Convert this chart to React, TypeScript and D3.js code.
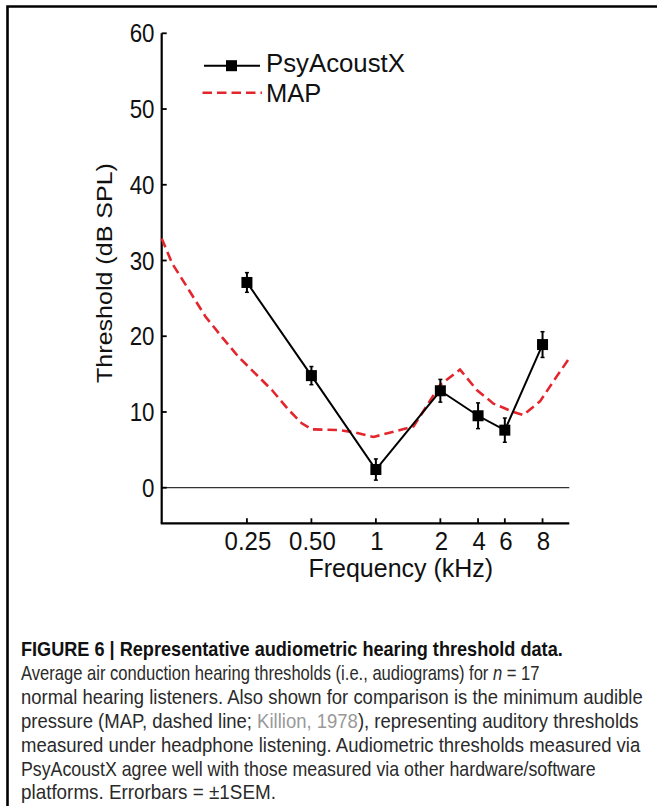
import React, { useLayoutEffect, useRef, useState } from "react";
import * as d3 from "d3";

// ---- data ----
const tickFreqs = [0.25, 0.5, 1, 2, 3, 4, 6];
const tickLabels = ["0.25", "0.50", "1", "2", "4", "6", "8"];
const yTicks = [0, 10, 20, 30, 40, 50, 60];

const psyFreqs = [0.25, 0.5, 1, 2, 3, 4, 6];
const psyMean = [27.1, 14.8, 2.4, 12.8, 9.5, 7.6, 18.9];
const psySem = [1.3, 1.2, 1.4, 1.5, 1.7, 1.6, 1.7];

const mapFreqs = [0.1, 0.112, 0.134, 0.16, 0.191, 0.228, 0.273, 0.327, 0.391, 0.451, 0.503, 0.68, 0.8, 0.975, 1.5, 2.0, 2.47, 2.96, 3.54, 4.39, 4.88, 5.84, 6.99, 8.0];
const mapDb = [32.9, 29.6, 26.1, 22.6, 19.9, 17.3, 15.1, 12.9, 10.3, 8.5, 7.7, 7.6, 7.3, 6.7, 8.1, 13.6, 15.6, 12.9, 11.1, 10.0, 9.6, 11.4, 14.7, 17.1];

const legendLabels = ["PsyAcoustX", "MAP"];

const captionTitle = "FIGURE 6 | Representative audiometric hearing threshold data.";

const W = 657;
const H = 806;
const FONT = "'Liberation Sans', Arial, Helvetica, sans-serif";
const RED = "#e3262d";

type FitProps = {
  x: number;
  y: number;
  target: number;
  rotate?: number;
  sy?: number;
  anchor?: "start" | "middle" | "end";
  children: React.ReactNode;
  [k: string]: any;
};

function FitText({ x, y, target, rotate = 0, sy = 1, anchor = "start", children, ...rest }: FitProps) {
  const ref = useRef<SVGTextElement>(null);
  const [sx, setSx] = useState(1);
  useLayoutEffect(() => {
    if (ref.current) {
      const w = ref.current.getComputedTextLength();
      if (w > 0) setSx(target / w);
    }
  }, [target]);
  return (
    <text
      ref={ref}
      transform={`translate(${x},${y}) rotate(${rotate}) scale(${sx},${sy})`}
      textAnchor={anchor}
      {...rest}
    >
      {children}
    </text>
  );
}

export default function App() {
  const x = d3.scaleLog().domain([0.1, 8]).range([161.7, 569.3]);
  const y = d3.scaleLinear().domain([-4.7, 60]).range([523.3, 33.3]);

  const psyPts = psyFreqs.map((f, i) => [f, psyMean[i]] as [number, number]);
  const mapPts = mapFreqs.map((f, i) => [f, mapDb[i]] as [number, number]);
  const line = d3
    .line<[number, number]>()
    .x((d) => x(d[0]))
    .y((d) => y(d[1]));

  const x0 = x.range()[0];
  const x1 = x.range()[1];
  const yBottom = y.range()[0];
  const yTop = y(60);
  const sq = 11;

  const body = { fontFamily: FONT, fontSize: 20.5, fill: "#2a2a2a" };

  return (
    <svg
      width={W}
      height={H}
      style={{ position: "absolute", left: 0, top: 0, background: "#fff" }}
    >
      <rect x={0} y={0} width={W} height={H} fill="#fff" />
      {/* frame */}
      <path d={`M7.5,${H} V6.5 H${W}`} fill="none" stroke="#000" strokeWidth={2.6} />

      {/* zero line */}
      <line x1={x0} x2={x1} y1={y(0)} y2={y(0)} stroke="#333" strokeWidth={1.3} />

      {/* axes */}
      <line x1={x0} x2={x0} y1={yTop} y2={yBottom} stroke="#000" strokeWidth={2.2} />
      <line x1={x0 - 1} x2={x1} y1={yBottom} y2={yBottom} stroke="#000" strokeWidth={2.2} />
      {yTicks.map((t) => (
        <g key={t}>
          <line x1={x0} x2={x0 + 5} y1={y(t)} y2={y(t)} stroke="#000" strokeWidth={1.8} />
          <text
            transform={`translate(154.5,${y(t) + 9}) scale(0.95,1.1)`}
            textAnchor="end"
            fontFamily={FONT}
            fontSize={23.5}
            fill="#111"
          >
            {t}
          </text>
        </g>
      ))}
      {tickFreqs.map((f, i) => (
        <g key={f}>
          <line x1={x(f)} x2={x(f)} y1={yBottom} y2={yBottom - 5} stroke="#000" strokeWidth={1.8} />
          <text
            transform={`translate(${x(f) + 1},550) scale(1,1.05)`}
            textAnchor="middle"
            fontFamily={FONT}
            fontSize={24}
            fill="#111"
          >
            {tickLabels[i]}
          </text>
        </g>
      ))}

      {/* axis titles */}
      <text
        transform="translate(400.8,576.7) scale(1,1.05)"
        textAnchor="middle"
        fontFamily={FONT}
        fontSize={25}
        fill="#111"
      >
        Frequency (kHz)
      </text>
      <FitText
        x={112}
        y={273}
        rotate={-90}
        target={220}
        anchor="middle"
        fontFamily={FONT}
        fontSize={22}
        fill="#111"
      >
        Threshold (dB SPL)
      </FitText>

      {/* MAP curve */}
      <path
        d={line(mapPts) || ""}
        fill="none"
        stroke={RED}
        strokeWidth={2.6}
        strokeDasharray="9.5,5"
      />

      {/* PsyAcoustX */}
      <path d={line(psyPts) || ""} fill="none" stroke="#000" strokeWidth={2} />
      {psyPts.map((d, i) => {
        const cx = x(d[0]);
        const lo = y(d[1] - psySem[i]);
        const hi = y(d[1] + psySem[i]);
        return (
          <g key={i}>
            <line x1={cx} x2={cx} y1={lo} y2={hi} stroke="#000" strokeWidth={2} />
            <line x1={cx - 2} x2={cx + 2} y1={lo} y2={lo} stroke="#000" strokeWidth={1.5} />
            <line x1={cx - 2} x2={cx + 2} y1={hi} y2={hi} stroke="#000" strokeWidth={1.5} />
            <rect x={cx - sq / 2} y={y(d[1]) - sq / 2} width={sq} height={sq} fill="#000" />
          </g>
        );
      })}

      {/* legend */}
      <line x1={204} x2={260} y1={65.7} y2={65.7} stroke="#000" strokeWidth={2} />
      <rect x={231.5 - sq / 2} y={65.7 - sq / 2} width={sq} height={sq} fill="#000" />
      <FitText x={266} y={72} target={139} fontFamily={FONT} fontSize={25.5} fill="#111">
        {legendLabels[0]}
      </FitText>
      <line
        x1={202.5}
        x2={262}
        y1={92.7}
        y2={92.7}
        stroke={RED}
        strokeWidth={2.6}
        strokeDasharray="9.5,5"
      />
      <text x={266} y={101.7} fontFamily={FONT} fontSize={25.5} fill="#111">
        {legendLabels[1]}
      </text>

      {/* caption */}
      <FitText x={21} y={656} target={542} fontFamily={FONT} fontSize={20} fontWeight="bold" fill="#111">
        {captionTitle}
      </FitText>
      <FitText x={21} y={680} target={519} {...body}>
        Average air conduction hearing thresholds (i.e., audiograms) for{" "}
        <tspan fontStyle="italic">n</tspan> = 17
      </FitText>
      <FitText x={21} y={704} target={622} {...body}>
        normal hearing listeners. Also shown for comparison is the minimum audible
      </FitText>
      <FitText x={21} y={728} target={618} {...body}>
        pressure (MAP, dashed line; <tspan fill="#999">Killion, 1978</tspan>), representing auditory thresholds
      </FitText>
      <FitText x={21} y={752} target={620} {...body}>
        measured under headphone listening. Audiometric thresholds measured via
      </FitText>
      <FitText x={21} y={776} target={575} {...body}>
        PsyAcoustX agree well with those measured via other hardware/software
      </FitText>
      <FitText x={21} y={799} target={255} {...body}>
        platforms. Errorbars = ±1SEM.
      </FitText>
    </svg>
  );
}
